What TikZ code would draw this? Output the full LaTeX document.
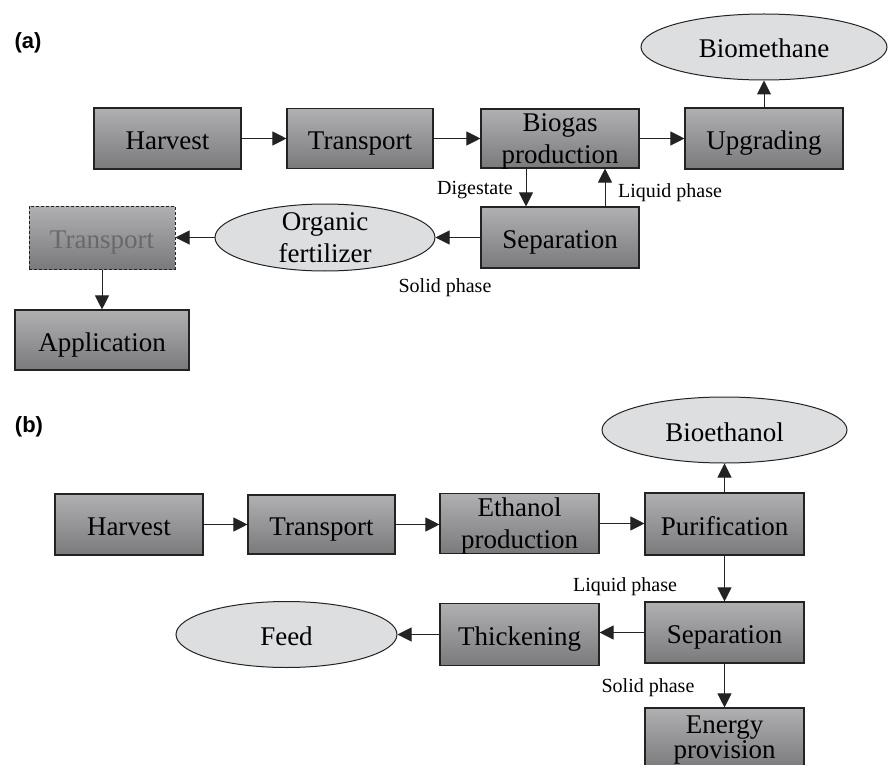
\documentclass[tikz,border=0pt]{standalone}
\usepackage{fontspec}
\setmainfont{Liberation Serif}
\newfontfamily\labfont{Liberation Sans}
\usetikzlibrary{arrows.meta,shapes.geometric}
\definecolor{boxtop}{RGB}{176,176,179}
\definecolor{boxbot}{RGB}{122,122,125}
\definecolor{ellfill}{RGB}{221,222,224}
\definecolor{edge}{RGB}{35,35,35}
\definecolor{fadetext}{RGB}{105,105,105}
\begin{document}
\begin{tikzpicture}[x=1pt,y=-1pt,
  box/.style={rectangle, draw=edge, line width=1.1pt, top color=boxtop, bottom color=boxbot,
    inner sep=0pt, font=\fontsize{27}{32}\selectfont, align=center},
  one/.style={text height=22pt, text depth=0pt},
  ell/.style={ellipse, draw=edge, line width=1pt, fill=ellfill, inner sep=0pt,
    font=\fontsize{27}{33}\selectfont, align=center},
  btext/.style={inner sep=0pt, font=\fontsize{27}{32}\selectfont, align=center},
  lab/.style={font=\fontsize{20}{24}\selectfont, inner sep=0pt},
  panel/.style={font=\labfont\bfseries\fontsize{22}{26}\selectfont, inner sep=0pt},
  arr/.style={draw=edge, line width=1pt, -{Triangle[length=14pt,width=14pt]}}]

\useasboundingbox (0,0) rectangle (889,765);

% ---------- panel (a) ----------
\node[panel] (pa) at (28,43) {(a)};

\node[box, one, minimum width=147pt, minimum height=61pt] (harvA) at (167.5,138.5) {Harvest};
\node[box, one, minimum width=146pt, minimum height=60pt] (transA) at (360,138.5) {Transport};
\node[box, minimum width=158pt, minimum height=59pt] (biogas) at (560,138.5) {};
\node[btext] (biogasT) at ([yshift=-3pt]biogas.center) {Biogas\\production};
\node[box, one, minimum width=158pt, minimum height=61pt] (upgr) at (764,138.5) {Upgrading};
\node[ell, one, minimum width=246pt, minimum height=66pt] (biometh) at (764,47) {Biomethane};

\node[box, one, minimum width=158pt, minimum height=61pt] (sepA) at (560,237.5) {Separation};
\node[ell, minimum width=220pt, minimum height=67pt] (fert) at (325,237.5) {};
\node[btext] (fertT) at (fert.center) {Organic\\fertilizer};
\node[box, one, dashed, dash pattern=on 3pt off 2pt, line width=1pt, text=fadetext,
  minimum width=146pt, minimum height=63pt] (transD) at (102,237.5) {Transport};
\node[box, one, minimum width=174pt, minimum height=60pt] (appl) at (102,340) {Application};

\draw[arr] (harvA.east) -- (harvA.east -| transA.west);
\draw[arr] (transA.east) -- (transA.east -| biogas.west);
\draw[arr] (biogas.east) -- (biogas.east -| upgr.west);
\draw[arr] (upgr.north) -- (biometh.south);
\draw[arr] ([xshift=-34pt]biogas.south) -- ([xshift=-34pt]sepA.north);
\draw[arr] ([xshift=45pt]sepA.north) -- ([xshift=45pt]biogas.south);
\draw[arr] (sepA.west) -- (fert.east);
\draw[arr] (fert.west) -- (transD.east);
\draw[arr] (transD.south) -- (appl.north);

\node[lab] (digl) at (475,190) {Digestate};
\node[lab] (liqa) at (670,193) {Liquid phase};
\node[lab] (sola) at (445,288) {Solid phase};

% ---------- panel (b) ----------
\node[panel] (pb) at (29,427) {(b)};

\node[box, one, minimum width=148pt, minimum height=61pt] (harvB) at (129,524.5) {Harvest};
\node[box, one, minimum width=147pt, minimum height=59pt] (transB) at (321.5,524.5) {Transport};
\node[box, minimum width=159pt, minimum height=60pt] (ethanol) at (519.5,523.5) {};
\node[btext] (ethanolT) at ([yshift=-3pt]ethanol.center) {Ethanol\\production};
\node[box, one, minimum width=159pt, minimum height=62pt] (purif) at (724.5,524) {Purification};
\node[ell, one, minimum width=245pt, minimum height=66pt] (bioeth) at (724.5,430) {Bioethanol};

\node[box, one, minimum width=159pt, minimum height=61pt] (sepB) at (724.5,632.5) {Separation};
\node[box, one, minimum width=159pt, minimum height=62pt] (thick) at (519.5,634.5) {Thickening};
\node[ell, one, minimum width=221pt, minimum height=66pt] (feed) at (286.5,634.5) {Feed};
\node[box, minimum width=159pt, minimum height=61pt] (energy) at (724.5,738.5) {};
\node[btext] (energyT) at ([yshift=-2pt]energy.center) {Energy\\[-7pt]provision};

\draw[arr] (harvB.east) -- (harvB.east -| transB.west);
\draw[arr] (transB.east) -- (transB.east -| ethanol.west);
\draw[arr] (ethanol.east) -- (ethanol.east -| purif.west);
\draw[arr] (purif.north) -- (bioeth.south);
\draw[arr] (purif.south) -- (sepB.north);
\draw[arr] (sepB.west) -- (sepB.west -| thick.east);
\draw[arr] (thick.west) -- (thick.west -| feed.east);
\draw[arr] (sepB.south) -- (energy.north);

\node[lab] (liqb) at (625,587) {Liquid phase};
\node[lab] (solb) at (648,688) {Solid phase};
\end{tikzpicture}
\end{document}
